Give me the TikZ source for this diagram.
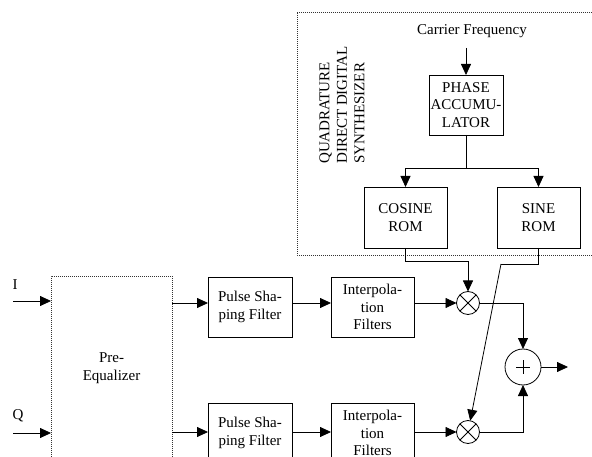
\documentclass[tikz,border=0pt]{standalone}
\usepackage{fontspec}
\setmainfont{Liberation Serif}
\usetikzlibrary{arrows.meta,calc}
\begin{document}
\begin{tikzpicture}[x=1pt,y=-1pt,
  every node/.style={font=\fontsize{15}{17.5}\selectfont},
  line/.style={line width=0.8pt},
  arr/.style={line width=0.8pt,-{Triangle[length=11pt,width=10pt]}},
  dotbox/.style={line width=0.6pt,black!80,dash pattern=on 0.8pt off 1.2pt},
  block/.style={draw,line width=0.8pt,rectangle,align=center,inner sep=0pt,outer sep=0pt},
  mult/.style={draw,line width=0.8pt,circle,inner sep=0pt,outer sep=0pt,minimum size=23pt},
  adder/.style={draw,line width=0.8pt,circle,inner sep=0pt,outer sep=0pt,minimum size=36pt}]
\useasboundingbox (0,0) rectangle (592,457);
\clip (0,0) rectangle (592,457);

% synthesizer enclosure
\draw[dotbox] (594,12) -- (297,12) -- (297,255) -- (594,255);
\node[rotate=90,anchor=west,align=left,inner sep=0pt] (ddslabel) at (342,164)
  {QUADRATURE\\DIRECT DIGITAL\\SYNTHESIZER};

% synthesizer blocks
\node (cf) at (472,31) {Carrier Frequency};
\node[block,minimum width=74pt,minimum height=60pt] (pa) at (466,105) {PHASE\\ACCUMU-\\LATOR};
\node[block,minimum width=83pt,minimum height=61pt] (cos) at (405.5,217.5) {COSINE\\ROM};
\node[block,minimum width=83pt,minimum height=61pt] (sin) at (538.5,217.5) {SINE\\ROM};
\coordinate (cfin) at (466,48);
\coordinate (br) at (466,168);
\draw[arr] (cfin) -- (pa.north);
\draw[line] (pa.south) -- (br);
\draw[arr] (br) -| (cos.north);
\draw[arr] (br) -| (sin.north);

% pre-equalizer
\node[draw,dotbox,rectangle,inner sep=0pt,outer sep=0pt,minimum width=121pt,minimum height=184pt] (pe) at (111.5,368) {};
\node[align=center,text=black] (pelabel) at (111.5,368) {Pre-\\Equalizer};

% I and Q inputs
\coordinate (iin) at (13,301);
\coordinate (qin) at (13,433);
\node (ilabel) at (15,285) {I};
\node (qlabel) at (18,416) {Q};
\draw[arr] (iin) -- (pe.west |- iin);
\draw[arr] (qin) -- (pe.west |- qin);

% I branch
\node[block,minimum width=84pt,minimum height=60pt] (psf1) at (250,307) {Pulse Sha-\\ping Filter};
\node[block,minimum width=83pt,minimum height=60pt] (int1) at (372.5,307) {Interpola-\\tion\\Filters};
\node[mult] (m1) at (468,303) {};
\draw[line] (m1.north east) -- (m1.south west) (m1.north west) -- (m1.south east);
\draw[arr] (pe.east |- m1) -- (psf1.west |- m1);
\draw[arr] (psf1.east |- m1) -- (int1.west |- m1);
\draw[arr] (int1.east |- m1) -- (m1.west);

% Q branch
\node[block,minimum width=84pt,minimum height=60pt] (psf2) at (250,433) {Pulse Sha-\\ping Filter};
\node[block,minimum width=83pt,minimum height=60pt] (int2) at (372.5,433) {Interpola-\\tion\\Filters};
\node[mult] (m2) at (468,432) {};
\draw[line] (m2.north east) -- (m2.south west) (m2.north west) -- (m2.south east);
\draw[arr] (pe.east |- m2) -- (psf2.west |- m2);
\draw[arr] (psf2.east |- m2) -- (int2.west |- m2);
\draw[arr] (int2.east |- m2) -- (m2.west);

% carrier feeds to the mixers
\coordinate (cbend) at (405.5,261);
\draw[arr] (cos.south) -- (cbend) -| (m1.north);
\coordinate (sbend) at (501,264);
\draw[line] (sin.south) |- (sbend);
\draw[arr] (sbend) -- (m2);

% summing junction and output
\node[adder] (sum) at (523,367) {};
\draw[line] ($(sum.center)+(-7,0)$) -- ($(sum.center)+(7,0)$);
\draw[line] ($(sum.center)+(0,-7)$) -- ($(sum.center)+(0,7)$);
\draw[arr] (m1.east) -| (sum.north);
\draw[arr] (m2.east) -| (sum.south);
\coordinate (out) at (568,367);
\draw[arr] (sum.east) -- (out);
\end{tikzpicture}
\end{document}
